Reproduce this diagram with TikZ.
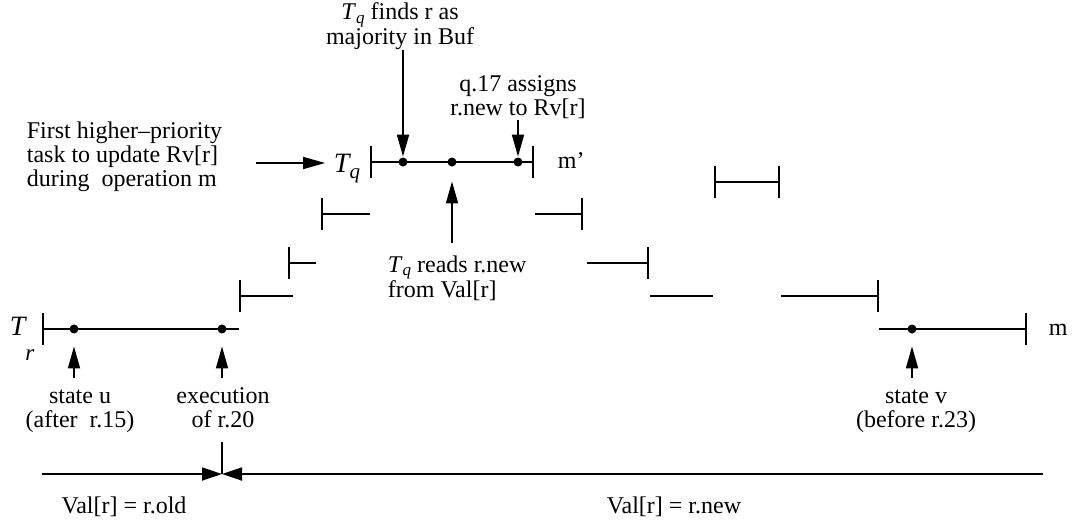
\documentclass[tikz,border=0pt]{standalone}
\usepackage{fontspec}
\setmainfont{Liberation Serif}
\usetikzlibrary{arrows.meta}

\newcommand{\tsk}[1]{\textit{T}\raisebox{-0.35ex}{\fontsize{17}{17}\selectfont\itshape #1}}

\begin{document}
\begin{tikzpicture}[x=1pt,y=-1pt,line width=1.8pt,
	dot/.style={circle,fill,inner sep=0,minimum size=9},
	arr/.style={-{Triangle[length=22pt,width=12pt]}},
	meet/.style={-{Triangle[length=20pt,width=13pt]}},
	lbl/.style={font=\fontsize{24}{24}\selectfont,align=center,inner sep=0},
	lbar/.style={{Bar[width=32pt]}-},
	rbar/.style={-{Bar[width=32pt]}},
	bbar/.style={{Bar[width=32pt]}-{Bar[width=32pt]}}]
	
	\useasboundingbox (0,0) rectangle (1073,523);
	
	% task labels
	\node[anchor=base,inner sep=0,inner xsep=8pt] at (347,172) (tq) {\fontsize{28}{28}\selectfont\itshape T\raisebox{-6pt}{\fontsize{21}{21}\selectfont q}};
	\node[anchor=base west,inner sep=0] at (9,335) (tr) {\fontsize{28}{28}\selectfont\itshape T\raisebox{-25pt}{\fontsize{23}{23}\selectfont r}};
	\node[lbl,anchor=base west] at (557,168) (mq) {m’};
	\node[lbl,anchor=base west] at (1048,335) (m) {m};
	
	% execution of T_q
	\draw[bbar] (370,162) -- (534,162);
	\node at (403,162) [dot] (q1) {};
	\node at (452,162) [dot] (q2) {};
	\node at (518,162) [dot] (q3) {};
	
	% preempting tasks
	\draw[lbar] (321,214) -- (370,214);
	\draw[rbar] (535,214) -- (583,214);
	\draw[bbar] (714,182) -- (780,182);
	\draw[lbar] (288,263) -- (316,263);
	\draw[rbar] (587,263) -- (649,263);
	\draw[lbar] (239,296) -- (293,296);
	\draw (650,296) -- (713,296);
	\draw[rbar] (781,296) -- (879,296);
	
	% execution of T_r
	\draw[lbar] (42,329) -- (239,329);
	\draw[rbar] (879,329) -- (1027,329);
	\node at (74,329) [dot] (r1) {};
	\node at (222,329) [dot] (r2) {};
	\node at (912,329) [dot] (r3) {};
	
	% annotations
	\node[lbl] at (400,26) (find) {\tsk{q} finds r as\\majority in Buf};
	\node[lbl] at (518,97) (assign) {q.17 assigns\\r.new to Rv[r]};
	\node[lbl,align=left,anchor=west] at (26,157) (first) {First higher--priority\\task to update Rv[r]\\during\ \ operation m};
	\node[lbl,align=left,anchor=west] at (387,278) (read) {\tsk{q} reads r.new\\from Val[r]};
	\node[lbl] at (80,411) (su) {state u\\(after\ \ r.15)};
	\node[lbl] at (223,408) (ex) {execution\\of r.20};
	\node[lbl] at (916,411) (sv) {state v\\(before r.23)};
	\node[lbl] at (124,507) (vold) {Val[r] = r.old};
	\node[lbl] at (674,507) (vnew) {Val[r] = r.new};
	
	\coordinate (f0) at (403,50);
	\coordinate (s0) at (518,120);
	\coordinate (t0) at (452,243);
	\coordinate (h0) at (256,163);
	\coordinate (u1) at (74,378);
	\coordinate (u2) at (222,378);
	\coordinate (u3) at (912,378);
	
	\draw[arr] (f0) -- (q1);
	\draw[arr] (s0) -- (q3);
	\draw[arr,shorten >=14pt] (t0) -- (q2);
	\draw[arr] (h0) -- (tq.west |- h0);
	\draw[arr,shorten >=12pt] (u1) -- (r1);
	\draw[arr,shorten >=12pt] (u2) -- (r2);
	\draw[arr,shorten >=12pt] (u3) -- (r3);
	
	% value of Val[r]
	\coordinate (v0) at (42,474);
	\coordinate (v1) at (1043,474);
	\coordinate (vx) at (222,474);
	\coordinate (vt) at (222,442);
	\draw[meet] (v0) -- (vx);
	\draw[meet] (v1) -- (vx);
	\draw (vt) -- (vx);
\end{tikzpicture}
\end{document}
